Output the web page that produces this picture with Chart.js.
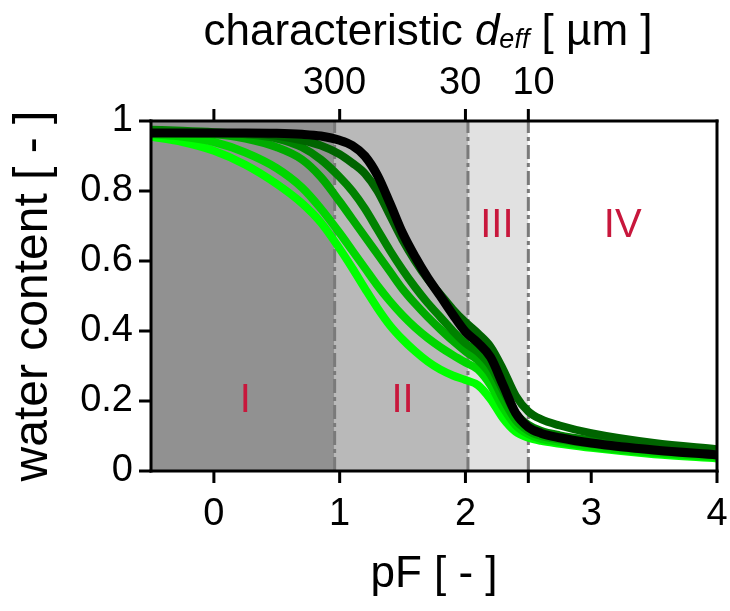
<!DOCTYPE html>
<html><head><meta charset="utf-8">
<script src="https://cdn.jsdelivr.net/npm/chart.js@4.4.1/dist/chart.umd.min.js"></script>
<style>html,body{margin:0;padding:0;background:#fff}#wrap{width:730px;height:611px;position:relative}</style>
</head><body><div id="wrap"><canvas id="c" width="730" height="611"></canvas></div>
<script>
// pF grid (x values)
const pF = [-0.5,-0.25,0,0.25,0.5,0.7,0.85,1.0,1.1,1.2,1.3,1.4,1.5,1.6,1.7,1.8,1.9,2.0,2.1,2.2,2.3,2.4,2.5,2.6,2.75,3.0,3.5,4.0];
// water content series (black -> lime)
const seriesBlack  = [0.966,0.966,0.966,0.966,0.965,0.962,0.957,0.945,0.930,0.900,0.845,0.765,0.680,0.612,0.552,0.500,0.447,0.398,0.366,0.325,0.245,0.165,0.125,0.108,0.095,0.080,0.060,0.046];
const seriesDark   = [0.966,0.966,0.966,0.965,0.958,0.945,0.930,0.905,0.880,0.850,0.800,0.730,0.660,0.600,0.548,0.505,0.462,0.425,0.393,0.355,0.290,0.215,0.170,0.148,0.130,0.108,0.080,0.062];
const seriesGreen  = [0.975,0.972,0.968,0.962,0.950,0.925,0.890,0.840,0.800,0.750,0.690,0.630,0.575,0.525,0.480,0.440,0.400,0.365,0.340,0.300,0.230,0.165,0.132,0.115,0.102,0.088,0.066,0.052];
const seriesMid    = [0.966,0.965,0.962,0.950,0.925,0.890,0.840,0.770,0.720,0.670,0.620,0.570,0.520,0.478,0.440,0.405,0.372,0.342,0.316,0.275,0.205,0.145,0.115,0.100,0.090,0.077,0.058,0.045];
const seriesBright = [0.962,0.955,0.940,0.910,0.865,0.810,0.750,0.680,0.630,0.580,0.530,0.485,0.445,0.410,0.380,0.354,0.331,0.310,0.290,0.245,0.180,0.130,0.105,0.092,0.083,0.070,0.052,0.040];
const seriesLime   = [0.955,0.940,0.915,0.875,0.820,0.765,0.710,0.635,0.580,0.522,0.466,0.416,0.376,0.342,0.313,0.290,0.273,0.260,0.245,0.205,0.150,0.112,0.095,0.086,0.078,0.066,0.048,0.036];
const seriesList   = [seriesBlack, seriesDark, seriesGreen, seriesMid, seriesBright, seriesLime];
const seriesColors = ['#000000','rgb(0,100,0)','rgb(0,130,0)','rgb(0,170,0)','rgb(0,215,0)','rgb(0,255,0)'];
const seriesWidths = [9,8,8,8,8,8];

// axes
const bottomTicks = [0,1,2,2.5,3,4];
const bottomLabels = ['0','1','2','','3','4'];
const topTicks = [0,1,2,2.5];
const topLabels = ['','300 ','30 ',' 10'];
const yTicks = [0,0.2,0.4,0.6,0.8,1];
const yLabels = ['0','0.2','0.4','0.6','0.8','1'];

// regions
const regionEdges = [-0.5,0.96,2.02,2.5,4];
const regionFills = ['#919191','#b9b9b9','#e1e1e1','#ffffff'];
const dividerPF = [0.96,2.02,2.5];
const regionNames = ['I','II','III','IV'];
const regionNameX = [0.25,1.5,2.25,3.25];
const regionNameY = [0.2,0.2,0.7,0.7];

const FONT = "'Liberation Sans', Arial, sans-serif";
const TICK = 12;
Chart.defaults.font.family = FONT;
Chart.defaults.color = '#000';

function labelFor(values, labels, v) {
  const i = values.findIndex(t => Math.abs(t - v) < 1e-9);
  return i < 0 ? '' : labels[i];
}

const regionsPlugin = {
  id: 'regions',
  beforeDraw(chart) {
    const {ctx, chartArea: a} = chart;
    const x = chart.scales.x, y = chart.scales.y;
    ctx.save();
    for (let i = 0; i < regionFills.length; i++) {
      const x0 = x.getPixelForValue(regionEdges[i]);
      const x1 = x.getPixelForValue(regionEdges[i+1]);
      ctx.fillStyle = regionFills[i];
      ctx.fillRect(x0, a.top, x1 - x0, a.bottom - a.top);
    }
    ctx.strokeStyle = '#7a7a7a';
    ctx.lineWidth = 3;
    ctx.setLineDash([14,4,4,4]);
    dividerPF.forEach(v => {
      const px = x.getPixelForValue(v);
      ctx.beginPath(); ctx.moveTo(px, a.bottom); ctx.lineTo(px, a.top); ctx.stroke();
    });
    ctx.setLineDash([]);
    ctx.fillStyle = '#c8173c';
    ctx.font = '40px ' + FONT;
    ctx.textAlign = 'center'; ctx.textBaseline = 'middle';
    regionNames.forEach((t, i) => {
      ctx.fillText(t, x.getPixelForValue(regionNameX[i]), y.getPixelForValue(regionNameY[i]));
    });
    ctx.restore();
  },
  afterDraw(chart) {
    const {ctx, chartArea: a} = chart;
    const x = chart.scales.x, y = chart.scales.y;
    ctx.save();
    ctx.setLineDash([]);
    ctx.fillStyle = '#000';
    // frame
    ctx.fillRect(a.left - 1.5, a.top - 1.5, a.right - a.left + 3, 3);
    ctx.fillRect(a.left - 1.5, a.bottom - 1.5, a.right - a.left + 3, 3);
    ctx.fillRect(a.left - 1.5, a.top - 1.5, 3, a.bottom - a.top + 3);
    ctx.fillRect(a.right - 1.5, a.top - 1.5, 3, a.bottom - a.top + 3);
    // tick marks
    bottomTicks.forEach(v => { const p = x.getPixelForValue(v); ctx.fillRect(p - 1.5, a.bottom, 3, TICK); });
    topTicks.forEach(v => { const p = x.getPixelForValue(v); ctx.fillRect(p - 1.5, a.top - TICK, 3, TICK); });
    yTicks.forEach(v => { const p = y.getPixelForValue(v); ctx.fillRect(a.left - TICK, p - 1.5, TICK, 3); });
    // top title with italic subscript
    const parts = [
      {t:'characteristic ', f:'44px ' + FONT, dy:0},
      {t:'d', f:'italic 44px ' + FONT, dy:0},
      {t:'eff', f:'italic 27px ' + FONT, dy:3},
      {t:' [ µm ]', f:'44px ' + FONT, dy:0}
    ];
    ctx.textBaseline = 'alphabetic'; ctx.textAlign = 'left';
    let total = 0;
    parts.forEach(p => { ctx.font = p.f; p.w = ctx.measureText(p.t).width; total += p.w; });
    let cx = (a.left + a.right) / 2 - total / 2 - 6;
    parts.forEach(p => { ctx.font = p.f; ctx.fillText(p.t, cx, 45 + p.dy); cx += p.w; });
    ctx.restore();
  }
};

const datasets = seriesList.map((s, i) => ({
  data: pF.map((v, j) => ({x: v, y: s[j]})),
  borderColor: seriesColors[i],
  borderWidth: seriesWidths[i],
  pointRadius: 0,
  fill: false,
  cubicInterpolationMode: 'monotone',
  clip: 0
}));

const gridOpts = () => ({display:false, drawOnChartArea:false, drawTicks:false});
const borderOpts = () => ({display:false});

new Chart(document.getElementById('c'), {
  type: 'line',
  data: {datasets},
  options: {
    responsive: false,
    animation: false,
    events: [],
    layout: {padding: {left:0, right:13, top:0, bottom:0}},
    plugins: {legend:{display:false}, tooltip:{enabled:false}},
    scales: {
      x: {
        type:'linear', position:'bottom', min:-0.5, max:4,
        grid: gridOpts(), border: borderOpts(),
        afterBuildTicks: s => { s.ticks = bottomTicks.map(v => ({value:v})); },
        ticks: {autoSkip:false, maxRotation:0, padding:25, font:{size:38, lineHeight:1},
          callback: (v) => labelFor(bottomTicks, bottomLabels, v)},
        title: {display:true, text:'pF [ - ]', font:{size:44, lineHeight:1}, padding:{top:0, bottom:14}},
        afterFit: s => { s.height = 140; s.paddingLeft = 0; s.paddingRight = 0; }
      },
      x2: {
        type:'linear', position:'top', min:-0.5, max:4,
        grid: gridOpts(), border: borderOpts(),
        afterBuildTicks: s => { s.ticks = topTicks.map(v => ({value:v})); },
        ticks: {autoSkip:false, maxRotation:0, padding:18, font:{size:38, lineHeight:1},
          callback: (v) => labelFor(topTicks, topLabels, v)},
        afterFit: s => { s.height = 121; s.paddingLeft = 0; s.paddingRight = 0; }
      },
      y: {
        type:'linear', position:'left', min:0, max:1,
        grid: gridOpts(), border: borderOpts(),
        afterBuildTicks: s => { s.ticks = yTicks.map(v => ({value:v})); },
        ticks: {padding:18, font:{size:38, lineHeight:1},
          callback: v => labelFor(yTicks, yLabels, v)},
        title: {display:true, text:'water content [ - ]', font:{size:48, lineHeight:1}, padding:{top:10, bottom:0}},
        afterFit: s => { s.width = 151; s.paddingTop = 0; s.paddingBottom = 0; }
      }
    }
  },
  plugins: [regionsPlugin]
});
</script>
</body></html>
